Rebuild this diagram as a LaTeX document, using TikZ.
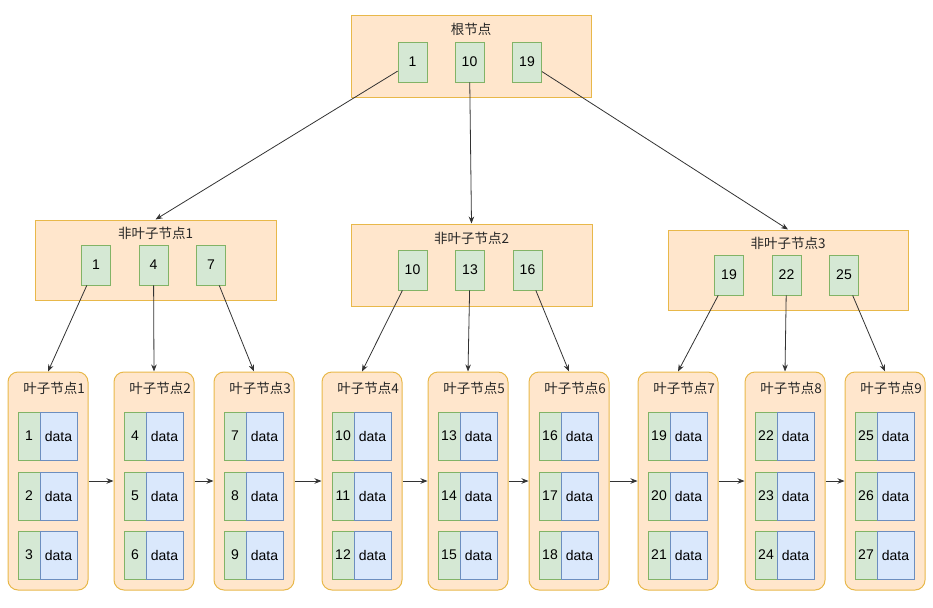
\documentclass[tikz,border=0pt]{standalone}
\usepackage{fontspec}
\setmainfont{Liberation Sans}
\newfontfamily\cjk{Noto Sans CJK SC}
\usetikzlibrary{arrows.meta}
\definecolor{ofill}{HTML}{FFE6CC}
\definecolor{obord}{HTML}{E8B84A}
\definecolor{gfill}{HTML}{D5E8D4}
\definecolor{gbord}{HTML}{82B366}
\definecolor{bfill}{HTML}{DAE8FC}
\definecolor{bbord}{HTML}{6C8EBF}
\definecolor{lnc}{HTML}{333333}
\begin{document}
\begin{tikzpicture}[x=1pt,y=-1pt,
  box/.style={draw=obord, fill=ofill, line width=1pt, inner sep=0pt},
  keybox/.style={draw=gbord, fill=gfill, line width=0.8pt, minimum width=29pt, minimum height=40pt, inner sep=0pt, font=\fontsize{14}{16}\selectfont},
  leafbox/.style={box, rounded corners=10pt, minimum width=80pt, minimum height=218pt},
  kcell/.style={draw=gbord, fill=gfill, line width=0.8pt, minimum width=22pt, minimum height=48pt, inner sep=0pt, font=\fontsize{14}{16}\selectfont},
  dcell/.style={draw=bbord, fill=bfill, line width=0.8pt, minimum width=37pt, minimum height=48pt, inner sep=0pt, font=\fontsize{14}{16}\selectfont},
  lbl/.style={inner sep=0pt, font=\cjk\fontsize{13.5}{15}\selectfont, text=black!85},
  arr/.style={draw=lnc, line width=0.8pt, -{Stealth[length=7pt,width=5.5pt]}}
]
\path[use as bounding box] (0,0) rectangle (933,607);

% root
\node[box, minimum width=240pt, minimum height=82pt] (root) at (471,57) {};
\node[lbl] (rootlbl) at (471,29) {根节点};
\node[keybox] (r1) at (412.5,62) {1};
\node[keybox] (r10) at (469.5,62) {10};
\node[keybox] (r19) at (527,62) {19};

% non-leaf 1
\node[box, minimum width=241pt, minimum height=80pt] (N1) at (155.5,260) {};
\node[lbl] (N1lbl) at (155.5,233) {非叶子节点1};
\node[keybox] (a1) at (96,265) {1};
\node[keybox] (a4) at (153.5,265) {4};
\node[keybox] (a7) at (211,265) {7};

% non-leaf 2
\node[box, minimum width=241pt, minimum height=82pt] (N2) at (471.5,265) {};
\node[lbl] (N2lbl) at (471.5,238) {非叶子节点2};
\node[keybox] (b10) at (412.5,270) {10};
\node[keybox] (b13) at (470,270) {13};
\node[keybox] (b16) at (527.5,270) {16};

% non-leaf 3
\node[box, minimum width=240pt, minimum height=80pt] (N3) at (788,270) {};
\node[lbl] (N3lbl) at (788,243) {非叶子节点3};
\node[keybox] (c19) at (729,275) {19};
\node[keybox] (c22) at (786.5,275) {22};
\node[keybox] (c25) at (844,275) {25};

% leaves
\foreach \lx [count=\i] in {8,114,214,322,428,529,638,745,845} {
  \node[leafbox] (L\i) at (\lx+40,481) {};
  \node[lbl] (L\i lbl) at (\lx+46,388) {叶子节点\i};
  \foreach \ry [count=\j] in {436,496,555} {
    \pgfmathtruncatemacro\kn{3*(\i-1)+\j}
    \node[kcell] (K\i-\j) at (\lx+21,\ry) {\kn};
    \node[dcell] (D\i-\j) at (\lx+50.5,\ry) {data};
  }
}

% root edges
\draw[arr] (r1) -- (N1.north);
\draw[arr] (r10) -- (N2.north);
\draw[arr] (r19) -- (N3.north);

% non-leaf edges
\draw[arr] (a1) -- (L1.north);
\draw[arr] (a4) -- (L2.north);
\draw[arr] (a7) -- (L3.north);
\draw[arr] (b10) -- (L4.north);
\draw[arr] (b13) -- (L5.north);
\draw[arr] (b16) -- (L6.north);
\draw[arr] (c19) -- (L7.north);
\draw[arr] (c22) -- (L8.north);
\draw[arr] (c25) -- (L9.north);

% leaf chain
\foreach \a/\b in {1/2,2/3,3/4,4/5,5/6,6/7,7/8,8/9}
  \draw[arr] (L\a.east) -- (L\b.west);
\end{tikzpicture}
\end{document}
